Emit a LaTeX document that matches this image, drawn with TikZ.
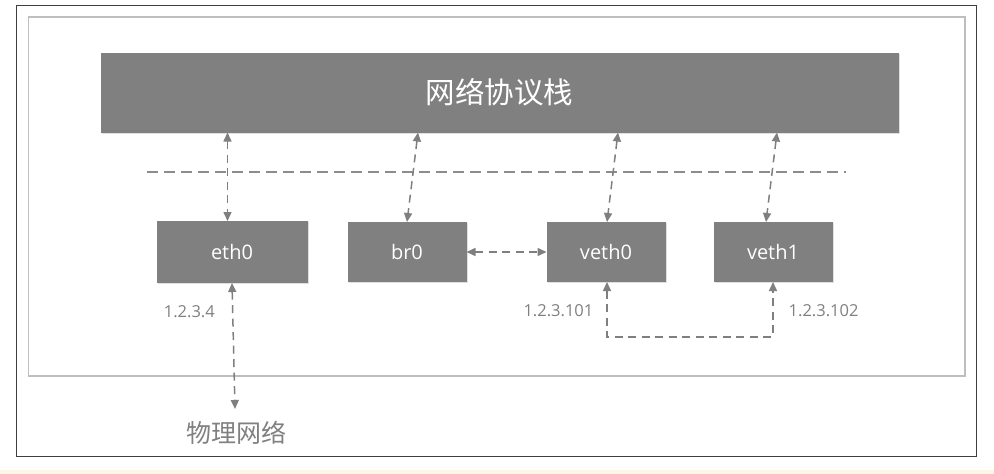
\documentclass[tikz,border=0pt]{standalone}
\usepackage{fontspec}
\setmainfont{Open Sans}
\newfontfamily\cjk{Noto Sans CJK SC}
\usetikzlibrary{arrows.meta,positioning,shadows}
\definecolor{boxgray}{HTML}{808080}
\definecolor{linegray}{HTML}{7F7F7F}
\definecolor{txtgray}{HTML}{808080}
\definecolor{framegray}{HTML}{BEBEBE}
\definecolor{framedark}{HTML}{3F3F3F}
\definecolor{pagebeige}{HTML}{FDF5E6}

\begin{document}
\begin{tikzpicture}[x=1pt, y=-1pt]
\tikzstyle{dev}=[rectangle, fill=boxgray, text=white, inner sep=0pt, outer sep=0pt, minimum width=119pt, minimum height=60pt, font=\fontsize{20}{24}\selectfont, drop shadow={opacity=0.25, shadow xshift=1pt, shadow yshift=-1pt}]
\tikzstyle{stackbox}=[dev, minimum width=798pt, minimum height=80pt, font=\fontsize{29.5}{34}\selectfont]
\tikzstyle{addr}=[text=txtgray, inner sep=0pt, font=\fontsize{16.5}{20}\selectfont]
\tikzstyle{connect}=[{Triangle[length=9pt,width=8pt]}-{Triangle[length=9pt,width=8pt]}, draw=linegray, line width=1.5pt, dash pattern=on 8pt off 5.5pt]
\tikzstyle{sep}=[draw=linegray!90, line width=1.4pt, dash pattern=on 11pt off 6pt]

  \useasboundingbox (0,0) rectangle (994,474);
  \fill[pagebeige] (0,470) rectangle (994,474);
  \draw[framedark, line width=1.3pt] (16.5,5.5) rectangle (976.5,456.5);
  \draw[framegray, line width=1.2pt] (28.5,17) rectangle (965,376);

  \node[stackbox] (stack) at (499.5,92.5) {\cjk 网络协议栈};

  \node[dev, minimum width=151pt, minimum height=62pt] (eth0) at (232,252) {eth0};
  \node[dev] (br0)   [right=40pt of eth0]  {br0};
  \node[dev] (veth0) [right=80pt of br0]   {veth0};
  \node[dev] (veth1) [right=48pt of veth0] {veth1};

  \coordinate (sepL) at (147,172);
  \coordinate (sepR) at (846,172);
  \draw[sep] (sepL) -- (sepR);

  \node[text=txtgray, inner sep=0pt, anchor=north, font=\cjk\fontsize{25}{29}\selectfont] (phys) at (236,421) {物理网络};

  \node[addr, anchor=east] (ipeth)   at (215,312)   {1.2.3.4};
  \node[addr, anchor=east] (ipveth0) at (593.5,311) {1.2.3.101};
  \node[addr, anchor=west] (ipveth1) at (788.5,311) {1.2.3.102};

  \draw[connect] ([xshift=-4.5pt]eth0.north |- stack.south) -- ([xshift=-4.5pt]eth0.north);
  \draw[connect] ([xshift=11pt]br0.north |- stack.south)    -- (br0.north);
  \draw[connect] ([xshift=12pt]veth0.north |- stack.south)  -- ([xshift=1pt]veth0.north);
  \draw[connect] ([xshift=4pt]veth1.north |- stack.south)   -- ([xshift=-7pt]veth1.north);

  \draw[connect] (br0.east) -- (veth0.west);
  \draw[connect] (eth0.south) -- ([xshift=-1pt, yshift=12pt]phys.north);
  \draw[connect] ([xshift=1pt]veth0.south) -- ++(0,55) -| (veth1.south);

\end{tikzpicture}
\end{document}
